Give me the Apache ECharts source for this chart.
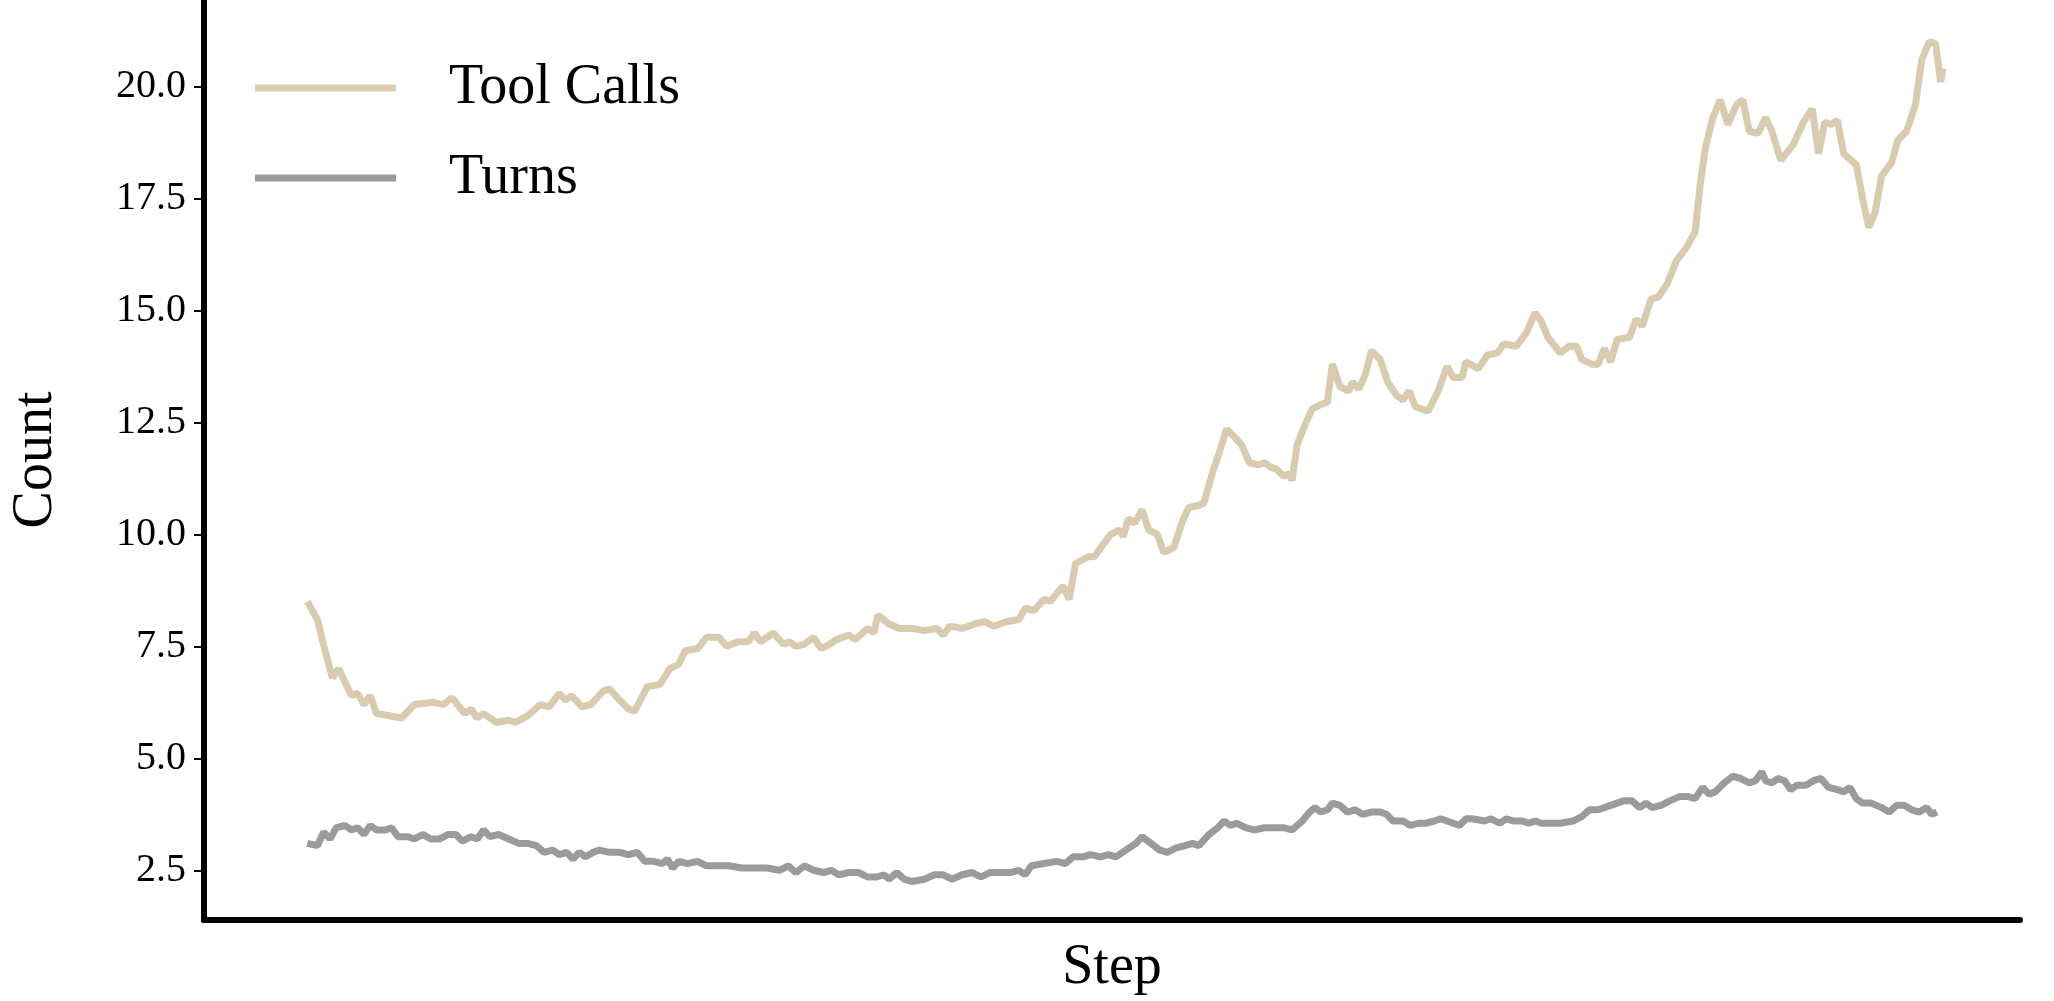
<!DOCTYPE html>
<html><head><meta charset="utf-8">
<script src="https://cdn.jsdelivr.net/npm/echarts@6/dist/echarts.min.js"></script>
<style>html,body{margin:0;padding:0;background:#fff}#c{width:2054px;height:1001px}</style>
</head><body><div id="c"></div>
<script>
// step positions (arbitrary step units) and values
const toolSteps = [0,8,15,20,25,35,40,45,50,55,75,85,100,108,115,125,130,135,140,150,160,165,175,185,192,200,205,210,218,225,235,240,248,255,260,270,280,288,295,300,310,317,327,333,342,350,355,360,370,378,383,388,395,402,408,415,420,430,435,445,450,453,462,470,480,490,500,505,510,520,530,538,545,555,565,570,577,585,590,600,605,610,620,625,630,638,645,648,652,657,663,668,675,680,688,695,700,708,712,718,725,730,737,742,748,755,760,765,770,775,780,782,786,793,798,805,810,814,820,827,830,835,840,845,852,858,865,870,875,880,890,898,905,910,917,920,930,937,945,950,960,968,975,980,985,995,1002,1008,1012,1020,1025,1030,1035,1040,1050,1055,1060,1067,1073,1080,1087,1095,1102,1106,1110,1116,1122,1128,1135,1140,1145,1152,1158,1163,1170,1180,1188,1195,1200,1205,1210,1215,1220,1230,1235,1240,1245,1250,1258,1263,1270,1277,1282,1288,1293,1297,1299];
const toolCalls = [8.5,8.1,7.3,6.8,7.0,6.4,6.45,6.2,6.4,6.0,5.9,6.2,6.25,6.2,6.35,6.0,6.1,5.9,6.0,5.8,5.85,5.8,5.95,6.2,6.15,6.45,6.3,6.4,6.15,6.2,6.5,6.55,6.3,6.1,6.05,6.6,6.65,7.0,7.1,7.4,7.45,7.7,7.7,7.5,7.6,7.6,7.8,7.6,7.8,7.55,7.6,7.5,7.55,7.7,7.45,7.55,7.65,7.75,7.65,7.9,7.8,8.2,8.0,7.9,7.9,7.85,7.9,7.75,7.95,7.9,8.0,8.05,7.95,8.05,8.1,8.35,8.3,8.55,8.5,8.85,8.55,9.35,9.5,9.5,9.7,10.0,10.1,9.95,10.35,10.25,10.55,10.1,10.0,9.6,9.7,10.3,10.6,10.65,10.7,11.3,11.9,12.35,12.15,12.0,11.6,11.55,11.6,11.5,11.45,11.3,11.35,11.2,12.0,12.5,12.8,12.9,12.95,13.8,13.3,13.2,13.4,13.25,13.55,14.1,13.9,13.4,13.1,13.0,13.2,12.85,12.75,13.2,13.75,13.5,13.5,13.85,13.7,14.0,14.05,14.25,14.2,14.5,14.95,14.75,14.4,14.05,14.2,14.2,13.9,13.8,13.8,14.15,13.85,14.35,14.4,14.8,14.65,15.25,15.3,15.6,16.1,16.4,16.75,17.8,18.6,19.3,19.7,19.15,19.6,19.7,19.0,18.95,19.3,19.0,18.35,18.7,19.2,19.5,18.5,19.2,19.15,19.25,18.5,18.25,17.5,16.85,17.2,18.0,18.3,18.8,19.0,19.6,20.6,21.0,20.95,20.1,20.4];
const turnSteps = [0,8,13,18,23,30,35,40,45,50,55,62,67,72,80,85,92,98,105,112,118,123,130,135,140,145,152,160,168,175,182,188,195,200,206,211,216,221,227,232,240,248,255,262,268,275,282,286,290,295,302,310,317,325,335,345,355,365,375,382,388,395,402,410,416,422,430,438,445,452,458,462,468,474,480,490,498,505,512,520,528,535,542,550,558,565,570,575,585,595,602,608,616,622,630,636,642,650,658,663,670,677,683,690,697,703,708,716,723,728,733,738,745,752,760,768,775,782,790,796,800,805,810,814,820,826,832,838,845,852,857,862,870,876,882,888,895,900,905,910,915,920,925,935,940,947,952,958,965,970,975,980,985,995,1005,1012,1018,1025,1035,1045,1052,1058,1063,1068,1075,1082,1090,1096,1102,1108,1113,1118,1125,1132,1138,1145,1150,1155,1158,1163,1168,1173,1178,1183,1190,1196,1202,1208,1215,1220,1225,1230,1235,1242,1250,1256,1262,1268,1274,1280,1286,1290,1294,1299];
const turns = [3.1,3.05,3.35,3.2,3.45,3.5,3.4,3.45,3.3,3.5,3.4,3.4,3.45,3.25,3.25,3.2,3.3,3.2,3.2,3.3,3.3,3.15,3.25,3.2,3.4,3.25,3.3,3.2,3.1,3.1,3.05,2.9,2.95,2.85,2.9,2.75,2.9,2.8,2.9,2.95,2.9,2.9,2.85,2.9,2.7,2.7,2.65,2.75,2.55,2.7,2.65,2.7,2.6,2.6,2.6,2.55,2.55,2.55,2.5,2.6,2.45,2.6,2.5,2.45,2.5,2.4,2.45,2.45,2.35,2.35,2.4,2.3,2.45,2.3,2.25,2.3,2.4,2.4,2.3,2.4,2.45,2.35,2.45,2.45,2.45,2.5,2.4,2.6,2.65,2.7,2.65,2.8,2.8,2.85,2.8,2.85,2.8,2.95,3.1,3.25,3.1,2.95,2.9,3.0,3.05,3.1,3.05,3.3,3.45,3.6,3.5,3.55,3.45,3.4,3.45,3.45,3.45,3.4,3.6,3.8,3.9,3.8,3.85,4.0,3.95,3.8,3.85,3.75,3.8,3.8,3.75,3.6,3.6,3.5,3.55,3.55,3.6,3.65,3.6,3.55,3.5,3.65,3.65,3.6,3.65,3.55,3.65,3.6,3.6,3.55,3.6,3.55,3.55,3.55,3.6,3.7,3.85,3.85,3.95,4.05,4.05,3.9,4.0,3.9,3.95,4.05,4.15,4.15,4.1,4.35,4.2,4.25,4.45,4.6,4.55,4.45,4.5,4.7,4.5,4.45,4.55,4.5,4.3,4.4,4.4,4.5,4.55,4.35,4.3,4.25,4.35,4.1,4.0,4.0,3.9,3.8,3.95,3.95,3.85,3.8,3.9,3.75,3.8];
const yTicks = [2.5,5.0,7.5,10.0,12.5,15.0,17.5,20.0];
const seriesNames = ['Tool Calls','Turns'];

const zip = (a,b)=>a.map((v,i)=>[v,b[i]]);
const font = 'Liberation Serif';
const chart = echarts.init(document.getElementById('c'));
chart.setOption({
  animation:false,
  backgroundColor:'#fff',
  grid:{left:194,top:0,right:34,bottom:80},
  legend:{
    left:250, top:54, orient:'vertical', icon:'rect', itemWidth:141, itemHeight:7,
    itemGap:32,
    textStyle:{fontFamily:font,fontSize:56,color:'#000',lineHeight:58,padding:[0,0,0,48]},
    data:seriesNames
  },
  xAxis:{
    type:'value', min:-82, max:1360,
    name:'Step', nameLocation:'middle', nameGap:20,
    nameTextStyle:{fontFamily:font,fontSize:56,color:'#000'},
    axisLine:{show:true,onZero:false,lineStyle:{color:'#000',width:6}},
    axisTick:{show:false}, axisLabel:{show:false}, splitLine:{show:false}
  },
  yAxis:{
    type:'value', min:1.39, max:21.93,
    name:'Count', nameLocation:'middle', nameGap:140,
    nameTextStyle:{fontFamily:font,fontSize:56,color:'#000'},
    axisLine:{show:true,onZero:false,lineStyle:{color:'#000',width:6}},
    axisTick:{show:true,length:10,lineStyle:{color:'#000',width:2},customValues:yTicks},
    axisLabel:{fontFamily:font,fontSize:40,color:'#000',margin:18,customValues:yTicks,
      formatter:v=>v.toFixed(1)},
    splitLine:{show:false}
  },
  series:[
    {name:seriesNames[0],type:'line',data:zip(toolSteps,toolCalls),showSymbol:false,
     lineStyle:{color:'#d8cbb0',width:7},itemStyle:{color:'#d8cbb0'}},
    {name:seriesNames[1],type:'line',data:zip(turnSteps,turns),showSymbol:false,
     lineStyle:{color:'#9b9b9b',width:7},itemStyle:{color:'#9b9b9b'}}
  ]
});
</script></body></html>
